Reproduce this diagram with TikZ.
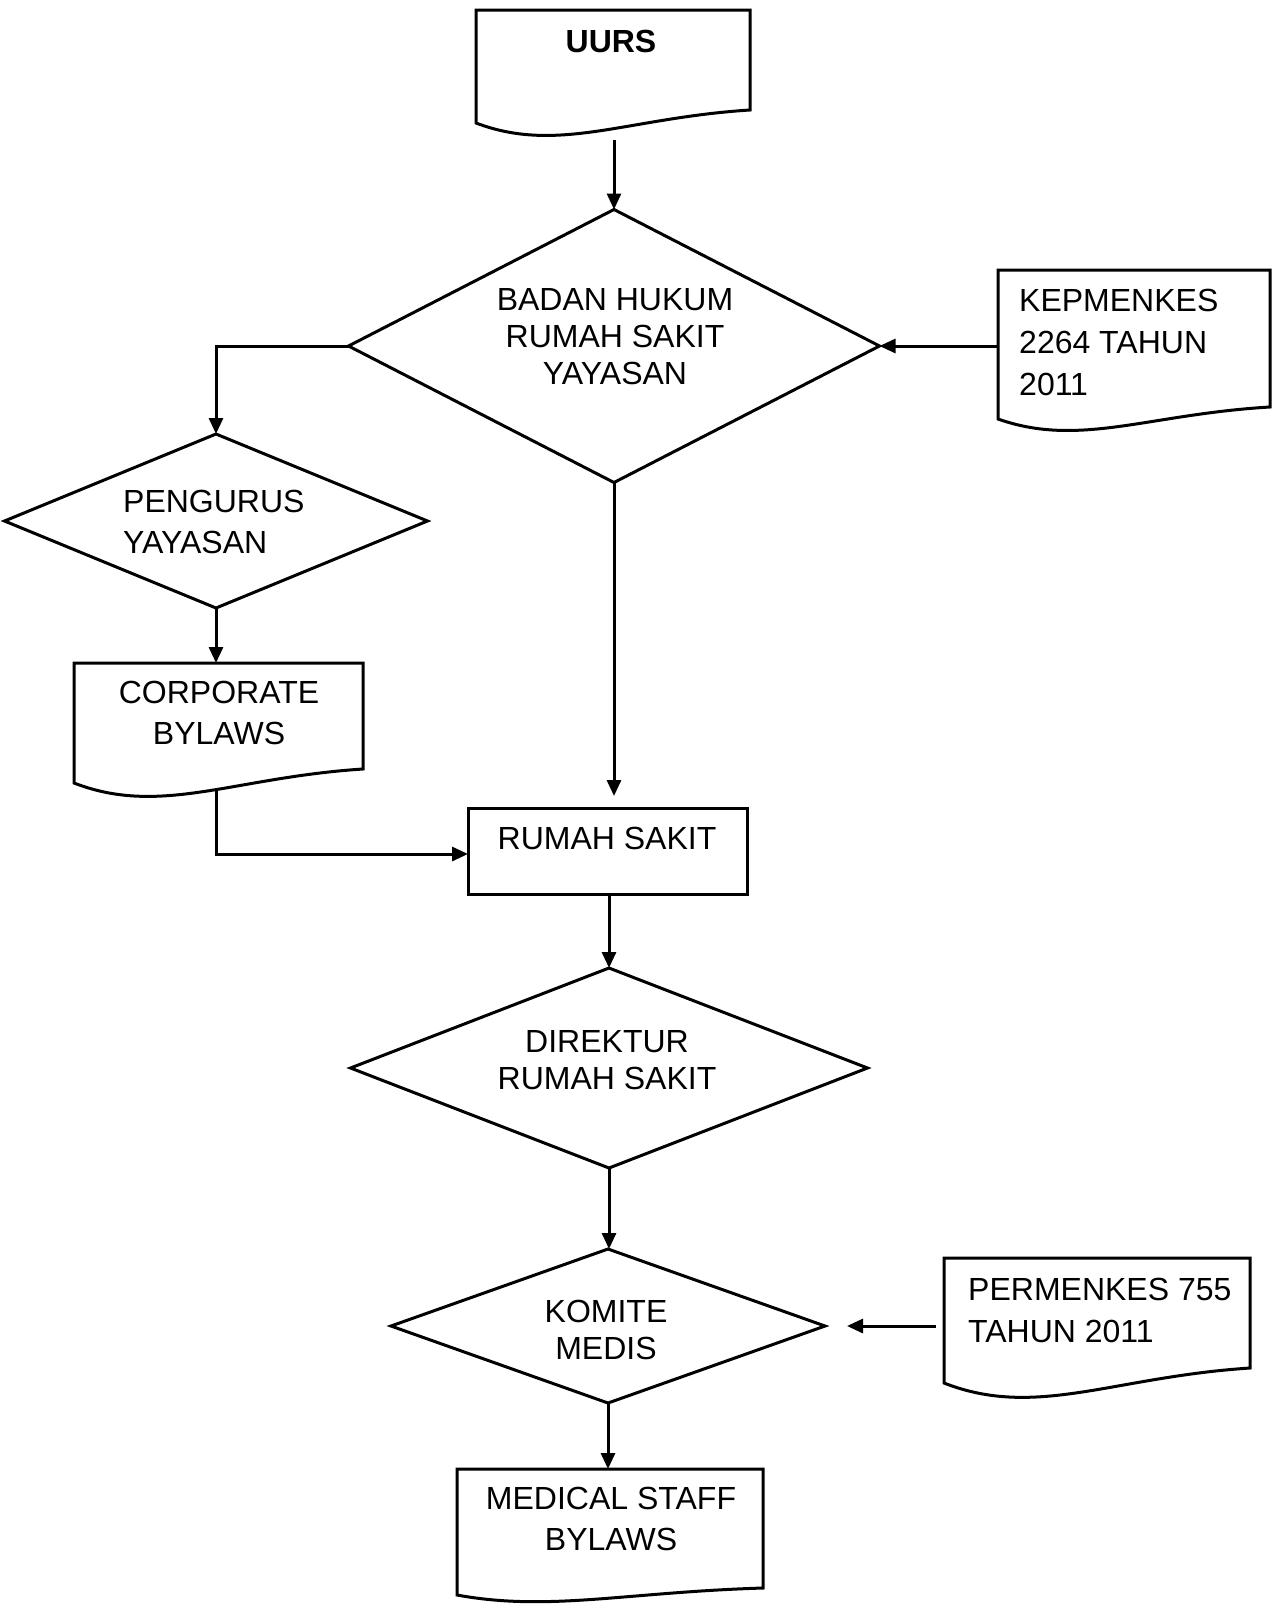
\documentclass[tikz,border=0pt]{standalone}
\usepackage{fontspec}
\setmainfont{Liberation Sans}
\usetikzlibrary{shapes.geometric,arrows.meta,calc}
\newcommand{\docoutline}[2]{%
  \draw[ln] (#1.south east) -- (#1.north east) -- (#1.north west) -- ($(#1.south west)+(0,#2)$)
    .. controls ($(#1.south west)!0.3!(#1.south east)+(0,{3.4*#2})$) and ($(#1.south west)!0.55!(#1.south east)+(0,{0.6*#2})$) .. (#1.south east) -- cycle;}
\begin{document}
\begin{tikzpicture}[x=1pt,y=-1pt,
  ln/.style={line width=3pt, line join=miter},
  arr/.style={ln, -{Triangle[length=16pt,width=14pt]}},
  dia/.style={ln, draw, diamond, inner sep=0pt, outer sep=0pt},
  docbody/.style={rectangle, inner sep=0pt, outer sep=0pt},
  boxs/.style={ln, draw, rectangle, inner sep=0pt, outer sep=0pt},
  txt/.style={inner sep=0pt, font=\fontsize{32}{37}\selectfont, align=center},
  txtw/.style={inner sep=0pt, font=\fontsize{32}{41}\selectfont, align=center},
  txtl/.style={inner sep=0pt, font=\fontsize{32}{42}\selectfont, align=left, anchor=west},
]
\useasboundingbox (0,0) rectangle (1281,1604);

% document shapes
\node[docbody, minimum width=274pt, minimum height=100pt] (uurs) at (613,60) {};
\node[docbody, minimum width=272pt, minimum height=137pt] (kep) at (1134,338.5) {};
\node[docbody, minimum width=289pt, minimum height=106pt] (corp) at (218.5,716) {};
\node[docbody, minimum width=306pt, minimum height=110pt] (perm) at (1097,1313) {};
\node[docbody, minimum width=306pt, minimum height=119pt] (med) at (610,1528.5) {};
\docoutline{uurs}{13}
\docoutline{kep}{12}
\docoutline{corp}{14}
\docoutline{perm}{15}
\docoutline{med}{7}

% diamonds
\node[dia, minimum width=531pt, minimum height=273pt] (d1) at (614,346) {};
\node[dia, minimum width=423pt, minimum height=174pt] (d2) at (216,521) {};
\node[dia, minimum width=517pt, minimum height=200pt] (d3) at (609,1068) {};
\node[dia, minimum width=434pt, minimum height=154pt] (d4) at (608,1326) {};

% box
\node[boxs, minimum width=279pt, minimum height=86pt] (rs) at (607.5,851) {};

% texts
\node[txt, font=\fontsize{32}{37}\selectfont\bfseries] (uurs-t) at (611,41) {UURS};
\node[txt] (d1-t) at (615,337) {BADAN HUKUM\\RUMAH SAKIT\\YAYASAN};
\node[txtl] (kep-t) at (1019,342) {KEPMENKES\\2264 TAHUN\\2011};
\node[txtw, align=left, anchor=west] (d2-t) at (123,522) {PENGURUS\\YAYASAN};
\node[txtw] (corp-t) at (219,713) {CORPORATE\\BYLAWS};
\node[txt] (rs-t) at (607,838) {RUMAH SAKIT};
\node[txt] (d3-t) at (607,1060) {DIREKTUR\\RUMAH SAKIT};
\node[txt] (d4-t) at (606,1330) {KOMITE\\MEDIS};
\node[txtl] (perm-t) at (968,1310) {PERMENKES 755\\TAHUN 2011};
\node[txtw] (med-t) at (611,1519) {MEDICAL STAFF\\BYLAWS};

% connectors
\draw[arr, shorten <=30pt] (d1.north |- uurs.south) -- (d1.north);
\draw[arr] (kep.west |- d1.east) -- (d1.east);
\draw[arr] (d1.west) -| (d2.north);
\draw[arr] (d2.south) -- (d2.south |- corp.north);
\draw[arr] ($(d2.south |- corp.south)+(0,22)$) |- ($(rs.west)+(0,3)$);
\draw[arr, shorten >=12pt] (d1.south) -- (d1.south |- rs.north);
\draw[arr] (d3.north |- rs.south) -- (d3.north);
\draw[arr] (d3.south) -- (d3.south |- d4.north);
\draw[arr, shorten <=8pt, shorten >=22pt] (perm.west |- d4.east) -- (d4.east);
\draw[arr] (d4.south) -- (d4.south |- med.north);
\end{tikzpicture}
\end{document}
